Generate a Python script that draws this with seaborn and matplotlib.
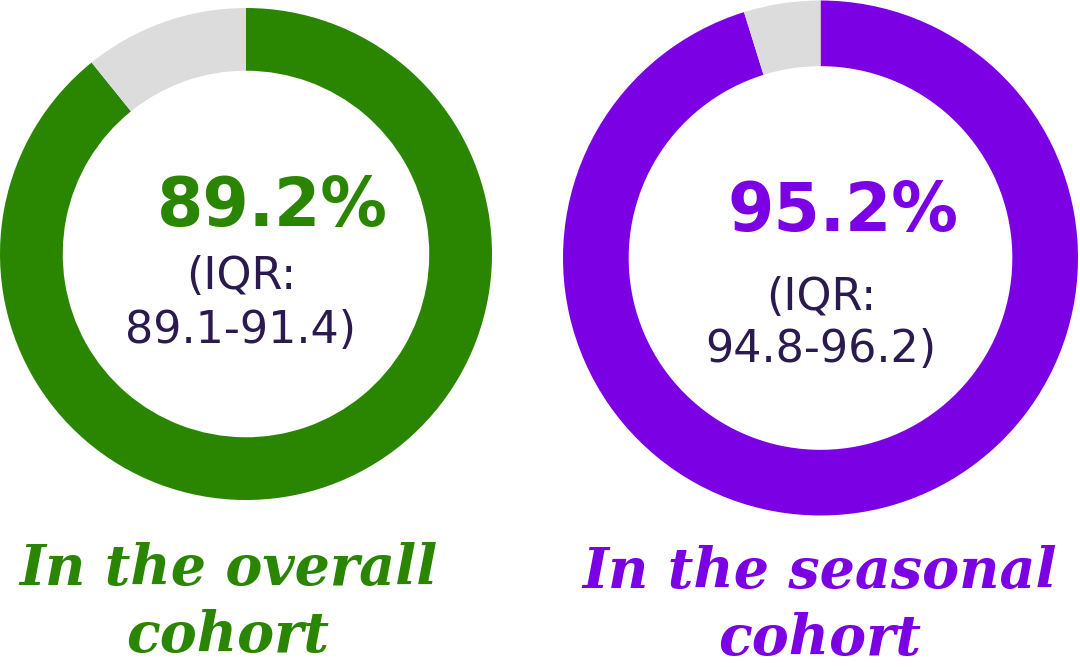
import matplotlib
matplotlib.use("Agg")
import matplotlib.pyplot as plt
import seaborn as sns

# -------------------------
# Data
# -------------------------
cohorts = ["In the overall\ncohort", "In the seasonal\ncohort"]
medians = [89.2, 95.2]
iqr_low = [89.1, 94.8]
iqr_high = [91.4, 96.2]
ring_colors = ["#2a8500", "#7b00e3"]
rest_color = "#dcdcdc"
text_dark = "#2b1a4f"

sns.set_theme(style="white")

W, H = 1080, 667
fig = plt.figure(figsize=(W / 100, H / 100), dpi=100)

# donut boxes in pixels: (left, top, size)
boxes = [(0, 8, 492), (563, 0.5, 515)]
# text anchors in pixels
pct_pos = [(272, 207), (843, 212)]
iqr_pos = [(241, 277), (821, 297)]
iqr2_pos = [(240, 331), (821, 350)]
label_top = [(228, 542), (820, 545)]


def fx(x):
    return x / W


def fy(y):
    return 1 - y / H


for i in range(2):
    left, top, size = boxes[i]
    ax = fig.add_axes([fx(left), fy(top + size), size / W, size / H])
    ax.pie([medians[i], 100 - medians[i]],
           colors=[ring_colors[i], rest_color],
           startangle=90, counterclock=False,
           wedgeprops=dict(width=0.255, linewidth=0))
    ax.set_xlim(-1, 1)
    ax.set_ylim(-1, 1)
    ax.set_aspect("auto")
    ax.axis("off")

    fig.text(fx(pct_pos[i][0]), fy(pct_pos[i][1]), f"{medians[i]:.1f}%",
             ha="center", va="center", fontsize=48, fontweight="bold",
             color=ring_colors[i], family="DejaVu Sans")
    fig.text(fx(iqr_pos[i][0]), fy(iqr_pos[i][1]), "(IQR:",
             ha="center", va="center", fontsize=32, color=text_dark,
             family="DejaVu Sans")
    fig.text(fx(iqr2_pos[i][0]), fy(iqr2_pos[i][1]),
             f"{iqr_low[i]:.1f}-{iqr_high[i]:.1f})",
             ha="center", va="center", fontsize=32, color=text_dark,
             family="DejaVu Sans")
    fig.text(fx(label_top[i][0]), fy(label_top[i][1]), cohorts[i],
             ha="center", va="top", fontsize=40,
             fontweight="bold", fontstyle="italic", color=ring_colors[i],
             family="DejaVu Serif", linespacing=1.28)

fig.savefig("out.png", dpi=100, facecolor="white")
